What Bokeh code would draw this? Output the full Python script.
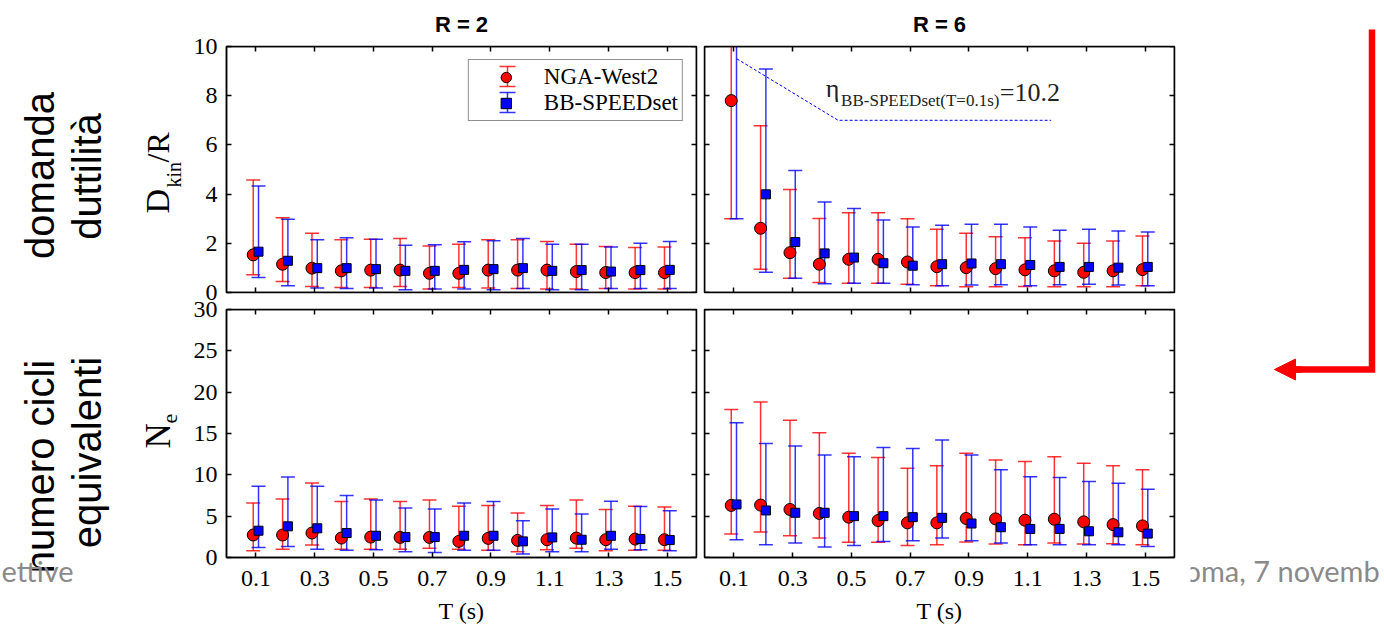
from bokeh.plotting import figure
from bokeh.layouts import row, column
from bokeh.models import (Range1d, LinearAxis, FixedTicker, CustomJSTickFormatter, Grid,
                          Label, Legend, LegendItem, Arrow, NormalHead, ColumnDataSource)
from bokeh.embed import file_html
from bokeh.resources import INLINE

# ---------------- data ----------------
periods = [0.1, 0.2, 0.3, 0.4, 0.5, 0.6, 0.7, 0.8, 0.9, 1.0, 1.1, 1.2, 1.3, 1.4, 1.5]
period_ticks = [0.1, 0.3, 0.5, 0.7, 0.9, 1.1, 1.3, 1.5]
ductility_ticks = [0, 2, 4, 6, 8, 10]
cycles_ticks = [0, 5, 10, 15, 20, 25, 30]
series_names = ["NGA-West2", "BB-SPEEDset"]
panel_titles = ["R = 2", "R = 6"]
x_title = "T (s)"

# ductility demand Dkin/R, R = 2
dr2_nga_mid = [1.53, 1.15, 0.99, 0.88, 0.91, 0.91, 0.78, 0.78, 0.91, 0.91, 0.91, 0.85, 0.81, 0.81, 0.81]
dr2_nga_lo = [0.72, 0.45, 0.24, 0.20, 0.20, 0.24, 0.14, 0.20, 0.18, 0.16, 0.14, 0.14, 0.16, 0.14, 0.14]
dr2_nga_hi = [4.57, 3.04, 2.41, 2.14, 2.16, 2.20, 1.89, 1.96, 2.14, 2.14, 2.07, 1.96, 1.87, 1.83, 1.85]
dr2_bb_mid = [1.66, 1.29, 0.99, 0.99, 0.95, 0.88, 0.88, 0.92, 0.95, 0.99, 0.88, 0.91, 0.85, 0.91, 0.92]
dr2_bb_lo = [0.61, 0.27, 0.18, 0.16, 0.18, 0.11, 0.14, 0.14, 0.11, 0.16, 0.11, 0.11, 0.16, 0.16, 0.16]
dr2_bb_hi = [4.33, 2.98, 2.14, 2.23, 2.16, 1.92, 1.94, 2.06, 2.10, 2.20, 1.96, 1.96, 1.85, 2.00, 2.07]

# ductility demand Dkin/R, R = 6
dr6_nga_mid = [7.80, 2.61, 1.62, 1.15, 1.35, 1.35, 1.24, 1.05, 1.01, 0.97, 0.92, 0.88, 0.82, 0.88, 0.93]
dr6_nga_lo = [3.00, 0.95, 0.58, 0.41, 0.38, 0.38, 0.34, 0.27, 0.23, 0.23, 0.24, 0.23, 0.23, 0.23, 0.27]
dr6_nga_hi = [12.5, 6.78, 4.19, 3.01, 3.24, 3.24, 3.00, 2.57, 2.41, 2.27, 2.23, 2.09, 2.00, 2.09, 2.30]
dr6_bb_mid = [10.2, 3.99, 2.05, 1.59, 1.42, 1.19, 1.09, 1.15, 1.18, 1.15, 1.12, 1.04, 1.04, 1.01, 1.04]
dr6_bb_lo = [3.00, 0.82, 0.58, 0.36, 0.38, 0.38, 0.31, 0.27, 0.30, 0.31, 0.27, 0.31, 0.34, 0.30, 0.27]
dr6_bb_hi = [16.0, 9.09, 4.96, 3.68, 3.41, 2.95, 2.66, 2.73, 2.77, 2.77, 2.66, 2.53, 2.57, 2.50, 2.46]

# equivalent number of cycles Ne, R = 2
ne2_nga_mid = [2.72, 2.72, 2.96, 2.35, 2.47, 2.43, 2.43, 1.95, 2.31, 2.07, 2.15, 2.35, 2.15, 2.23, 2.15]
ne2_nga_lo = [0.81, 1.01, 1.50, 1.01, 1.01, 1.01, 1.13, 1.01, 0.89, 0.69, 0.93, 1.13, 0.81, 0.89, 0.89]
ne2_nga_hi = [6.60, 7.09, 9.00, 6.77, 7.09, 6.77, 6.97, 6.20, 6.28, 5.39, 6.28, 6.97, 5.80, 6.20, 6.12]
ne2_bb_mid = [3.24, 3.77, 3.53, 2.96, 2.63, 2.47, 2.47, 2.63, 2.63, 1.95, 2.43, 2.15, 2.63, 2.23, 2.11]
ne2_bb_lo = [1.22, 1.34, 1.01, 0.89, 0.93, 0.69, 0.61, 0.89, 0.89, 0.41, 0.69, 0.69, 1.01, 0.93, 0.81]
ne2_bb_hi = [8.63, 9.73, 8.63, 7.50, 6.97, 6.00, 5.88, 6.60, 6.77, 4.46, 5.88, 5.27, 6.81, 6.16, 5.67]

# equivalent number of cycles Ne, R = 6
ne6_nga_mid = [6.30, 6.34, 5.81, 5.33, 4.88, 4.47, 4.19, 4.19, 4.72, 4.67, 4.51, 4.63, 4.31, 3.98, 3.82]
ne6_nga_lo = [2.85, 3.09, 2.64, 2.36, 1.83, 1.83, 1.46, 1.54, 1.87, 1.63, 1.54, 1.75, 1.63, 1.67, 1.54]
ne6_nga_hi = [17.9, 18.8, 16.6, 15.1, 12.6, 12.1, 10.8, 11.1, 12.6, 11.8, 11.6, 12.2, 11.4, 11.1, 10.6]
ne6_bb_mid = [6.42, 5.69, 5.41, 5.41, 5.00, 5.00, 4.88, 4.80, 4.11, 3.66, 3.46, 3.46, 3.17, 3.05, 2.89]
ne6_bb_lo = [2.15, 1.54, 1.75, 1.26, 1.46, 1.95, 2.03, 2.36, 2.03, 1.75, 1.54, 1.54, 1.54, 1.54, 1.34]
ne6_bb_hi = [16.3, 13.8, 13.5, 12.4, 12.2, 13.3, 13.2, 14.2, 12.4, 10.6, 9.76, 9.67, 9.19, 8.98, 8.25]

eta_text = "BB-SPEEDset(T=0.1s)"
eta_value = "=10.2"

# ---------------- styling helpers ----------------
H = 627
SERIF = "Liberation Serif"
SANS = "Liberation Sans"
FOOT = "Lato"
RED = "#ff0000"
BLUE = "#0000ff"
GRAY = "#8a8a8a"
BASE_SHIFT = 0.45  # em offset between Label anchor and rendered baseline
FRAME_W = 470


def drop_grids(p):
    for r in list(p.center):
        if isinstance(r, Grid):
            r.visible = False


def canvas_fig(w, h):
    p = figure(width=w, height=h, x_range=Range1d(0, w), y_range=Range1d(0, h),
               toolbar_location=None, output_backend="svg",
               x_axis_location=None, y_axis_location=None,
               min_border_left=0, min_border_right=0, min_border_top=0, min_border_bottom=0)
    p.outline_line_color = None
    p.background_fill_color = "white"
    p.border_fill_color = "white"
    drop_grids(p)
    return p


def px_label(p, x, y, text, fs, font=SANS, align="center", color="black", angle=90):
    # x, y: wanted baseline position in pixels from the figure's top-left corner
    if angle:
        ax, ay = x - BASE_SHIFT * fs, H - y
    else:
        ax, ay = x, H - y + BASE_SHIFT * fs
    p.add_layout(Label(x=ax, y=ay, text=text, angle=angle, angle_units="deg",
                       text_align=align, text_baseline="alphabetic",
                       text_font=font, text_font_size=f"{fs}px", text_color=color))


def style_axis(ax, ticks, labels):
    ax.ticker = FixedTicker(ticks=ticks, minor_ticks=[])
    ax.major_tick_in = 5
    ax.major_tick_out = 0
    ax.major_tick_line_color = "black"
    ax.major_tick_line_width = 1.5
    ax.minor_tick_line_color = None
    ax.axis_line_color = "black"
    ax.axis_line_width = 1.5
    if labels:
        ax.major_label_text_font = SERIF
        ax.major_label_text_font_size = "24px"
        ax.major_label_text_color = "black"
    else:
        ax.formatter = CustomJSTickFormatter(code="return ''")
        ax.major_label_standoff = 0


def panel(w, h, yr, yticks, bl, br, bt, bb, ylabels, xlabels, title=None):
    p = figure(width=w, height=h, x_range=Range1d(0, 1.6), y_range=Range1d(*yr),
               toolbar_location=None, output_backend="svg",
               x_axis_location=None, y_axis_location=None,
               min_border_left=bl, min_border_right=br, min_border_top=bt, min_border_bottom=bb)
    drop_grids(p)
    p.outline_line_color = "black"
    p.outline_line_width = 1.5
    p.background_fill_color = "white"
    p.border_fill_color = "white"
    if title:
        p.title.text = title
        p.title.align = "center"
        p.title.text_font = SANS
        p.title.text_font_size = "22px"
        p.title.text_font_style = "bold"
        p.title.text_color = "black"
        p.title.standoff = 19
    if ylabels:
        ax = LinearAxis()
        style_axis(ax, yticks, True)
        ax.major_label_standoff = 9
    else:
        ax = LinearAxis(fixed_location=0)
        style_axis(ax, yticks, False)
    p.add_layout(ax, "left")
    ax = LinearAxis(fixed_location=1.6)
    style_axis(ax, yticks, False)
    p.add_layout(ax, "right")
    ax = LinearAxis(fixed_location=yr[1])
    style_axis(ax, period_ticks, False)
    p.add_layout(ax, "above")
    if xlabels:
        ax = LinearAxis(axis_label=x_title)
        style_axis(ax, period_ticks, True)
        ax.major_label_standoff = 13
        ax.axis_label_standoff = 9
        ax.axis_label_text_font = SERIF
        ax.axis_label_text_font_size = "24px"
        ax.axis_label_text_font_style = "normal"
        ax.axis_label_text_color = "black"
    else:
        ax = LinearAxis(fixed_location=yr[0])
        style_axis(ax, period_ticks, False)
    p.add_layout(ax, "below")
    return p


def errbars(p, x, lo, hi, color, cap=14):
    src = ColumnDataSource(dict(x=x, lo=lo, hi=hi))
    p.segment(x0="x", y0="lo", x1="x", y1="hi", source=src,
              line_color=color, line_width=1.5, line_alpha=0.8)
    p.scatter(x="x", y="lo", source=src, marker="dash", size=cap,
              line_color=color, line_width=1.5, line_alpha=0.8)
    p.scatter(x="x", y="hi", source=src, marker="dash", size=cap,
              line_color=color, line_width=1.5, line_alpha=0.8)


def draw_pair(p, nga, bb):
    xs = []
    for (mid, lo, hi), color, shift in ((nga, RED, -0.009), (bb, BLUE, 0.009)):
        x = [t + shift for t in periods]
        errbars(p, x, lo, hi, color)
        xs.append(x)
    r1 = p.scatter(x=xs[0], y=nga[0], marker="circle", size=12,
                   fill_color=RED, line_color="black", line_width=1)
    r2 = p.scatter(x=xs[1], y=bb[0], marker="square", size=9,
                   fill_color=BLUE, line_color="black", line_width=1)
    return r1, r2


# ---------------- panels ----------------
p_tl = panel(514, 300, (0, 10), ductility_ticks, 40, 4, 46, 8, True, False, panel_titles[0])
p_tr = panel(490, 300, (0, 10), ductility_ticks, 4, 16, 46, 8, False, False, panel_titles[1])
p_bl = panel(514, 327, (0, 30), cycles_ticks, 40, 4, 9, 70, True, True)
p_br = panel(490, 327, (0, 30), cycles_ticks, 4, 16, 9, 70, False, True)

r_nga, r_bb = draw_pair(p_tl, (dr2_nga_mid, dr2_nga_lo, dr2_nga_hi), (dr2_bb_mid, dr2_bb_lo, dr2_bb_hi))
draw_pair(p_tr, (dr6_nga_mid, dr6_nga_lo, dr6_nga_hi), (dr6_bb_mid, dr6_bb_lo, dr6_bb_hi))
draw_pair(p_bl, (ne2_nga_mid, ne2_nga_lo, ne2_nga_hi), (ne2_bb_mid, ne2_bb_lo, ne2_bb_hi))
draw_pair(p_br, (ne6_nga_mid, ne6_nga_lo, ne6_nga_hi), (ne6_bb_mid, ne6_bb_lo, ne6_bb_hi))

# legend (transparent so that the error-bar keys drawn below it show through)
LEG_MARGIN, LEG_PAD, LEG_ROW, LEG_GLYPH_W = 13, 4, 26, 66
legend = Legend(items=[LegendItem(label=series_names[0], renderers=[r_nga]),
                       LegendItem(label=series_names[1], renderers=[r_bb])],
                location="top_right", margin=LEG_MARGIN, padding=LEG_PAD, spacing=0,
                glyph_width=LEG_GLYPH_W, glyph_height=LEG_ROW, label_height=LEG_ROW, label_standoff=5,
                label_text_font=SERIF, label_text_font_size="23px", label_text_color="black",
                border_line_color="#222222", border_line_width=1.5,
                background_fill_alpha=0.0)
p_tl.add_layout(legend)

# error-bar keys inside the legend (pixel geometry of the legend -> data units)
px_x = 1.6 / FRAME_W
px_y = 10.0 / 246
leg_label_w = 134
leg_w = 2 * LEG_PAD + LEG_GLYPH_W + 5 + leg_label_w
key_x = 1.6 - (LEG_MARGIN + leg_w - LEG_PAD - LEG_GLYPH_W / 2) * px_x
for i, color in enumerate((RED, BLUE)):
    cy = 10.0 - (LEG_MARGIN + LEG_PAD + LEG_ROW * (i + 0.5)) * px_y
    errbars(p_tl, [key_x], [cy - 10 * px_y], [cy + 10 * px_y], color, cap=16)

# annotation in R = 6 ductility panel
p_tr.line(x=[0.11, 0.455, 1.18], y=[9.5, 7.0, 7.0], line_color=BLUE, line_width=1, line_dash="3 2")


def data_label(p, x, y_base, text, fs):
    p.add_layout(Label(x=x, y=y_base + BASE_SHIFT * fs * px_y, text=text,
                       text_font=SERIF, text_font_size=f"{fs}px",
                       text_color="#222222", text_align="left", text_baseline="alphabetic"))


data_label(p_tr, 0.413, 7.80, "\u03b7", 26)
data_label(p_tr, 0.465, 7.50, eta_text, 17)
data_label(p_tr, 1.005, 7.64, eta_value, 26)

# ---------------- side figure (row labels, y-axis titles) ----------------
side = canvas_fig(186, H)
px_label(side, 57, 175, "domanda", 40)
px_label(side, 104, 176, "duttilità", 40)
px_label(side, 57, 466, "numero cicli", 40)
px_label(side, 104, 452, "equivalenti", 40)
px_label(side, 172, 213, "D", 34, SERIF, "left")
px_label(side, 182, 187, "kin", 20, SERIF, "left")
px_label(side, 172, 162, "/R", 32, SERIF, "left")
px_label(side, 174, 448, "N", 35, SERIF, "left")
px_label(side, 179, 423, "e", 22, SERIF, "left")
px_label(side, 1, 583, "ettive", 29, FOOT, "left", GRAY, 0)

# ---------------- right figure (arrow, footer) ----------------
arrow_fig = canvas_fig(194, H)
arrow_fig.line(x=[181.5, 181.5, 101], y=[H - 29, H - 369, H - 369], line_color=RED,
               line_width=6.5, line_join="miter")
arrow_fig.add_layout(Arrow(x_start=111, y_start=H - 369, x_end=84, y_end=H - 369,
                           line_color=RED, line_width=6.5,
                           end=NormalHead(size=21, fill_color=RED, line_color=RED, line_width=1)))
px_label(arrow_fig, -6, 583, "oma, 7 novemb", 29, FOOT, "left", GRAY, 0)

layout = row(side, column(p_tl, p_bl), column(p_tr, p_br), arrow_fig)

open("out.html", "w").write(file_html(layout, INLINE))
